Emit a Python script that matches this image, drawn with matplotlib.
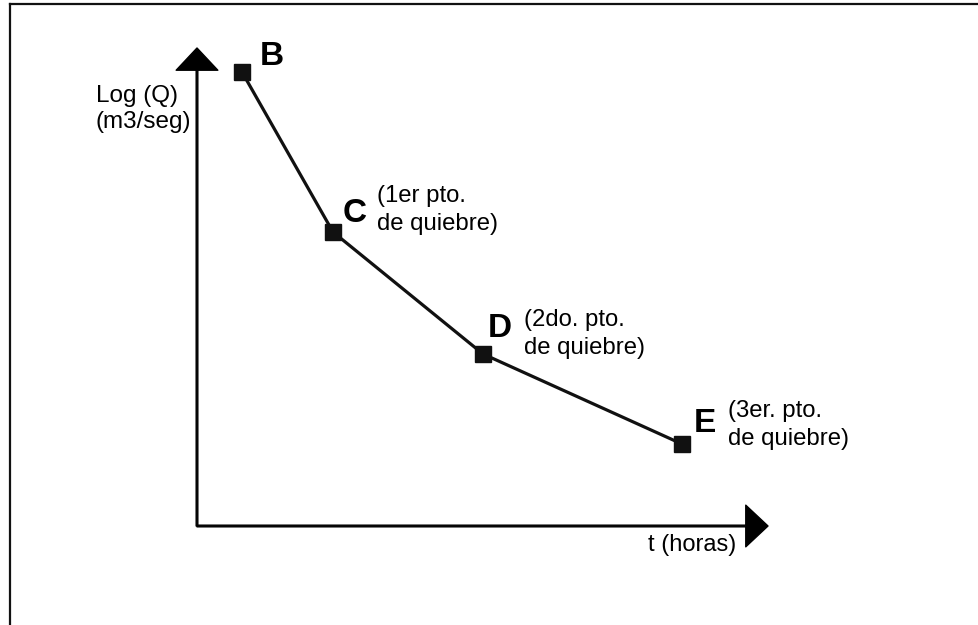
import matplotlib
matplotlib.use("Agg")
import matplotlib.pyplot as plt
from matplotlib.lines import Line2D

plt.rcParams['font.family'] = ['Liberation Sans', 'DejaVu Sans']

# puntos de quiebre del hidrograma (unidades arbitrarias)
puntos = ["B", "C", "D", "E"]
t_horas = [4.5, 13.6, 28.6, 48.5]
log_q = [45.4, 29.4, 17.2, 8.2]
notas = ["", "(1er pto.\nde quiebre)", "(2do. pto.\nde quiebre)", "(3er. pto.\nde quiebre)"]

# desplazamientos de las etiquetas en pixeles, a la linea base (letra, nota)
off_letra = [(18, 7), (10, 10), (5, 17), (12, 12)]
off_nota = [(0, 0), (44, 2), (41, 0), (46, -1)]

W, H, DPI = 979, 625, 100
PT = 72.0 / DPI

fig = plt.figure(figsize=(W / DPI, H / DPI), dpi=DPI)
fig.patch.set_facecolor("white")

# marco (solo izquierda y arriba)
fx = 10 / W
fy = 1 - 4 / H
fig.add_artist(Line2D([fx, fx], [0, fy], color="#111111", lw=1.6))
fig.add_artist(Line2D([fx, 1], [fy, fy], color="#111111", lw=1.6))

x0, y0 = 197, 526
x1, y1 = 768, 48
ax = fig.add_axes([x0 / W, (H - y0) / H, (x1 - x0) / W, (y0 - y1) / H])
ax.set_xlim(0, (x1 - x0) / 10)
ax.set_ylim(0, (y0 - y1) / 10)
ax.set_axis_off()

# ejes con flechas
flecha = dict(width=1.2, headwidth=30, headlength=16, color="black", shrink=0)
ax.annotate("", xy=(0, 1), xytext=(0, 0), xycoords="axes fraction",
            textcoords="axes fraction", arrowprops=flecha)
ax.annotate("", xy=(1, 0), xytext=(0, 0), xycoords="axes fraction",
            textcoords="axes fraction", arrowprops=flecha)

ax.plot(t_horas, log_q, color="#111111", lw=2.3, marker="s", ms=11,
        clip_on=False)

for i, p in enumerate(puntos):
    dx, dy = off_letra[i]
    ax.annotate(p, xy=(t_horas[i], log_q[i]), xytext=(dx * PT, dy * PT),
                textcoords="offset points", ha="left", va="baseline",
                fontsize=24, fontweight="bold", color="black")
    if notas[i]:
        nx, ny = off_nota[i]
        # va="baseline" alinea la ultima linea
        ax.annotate(notas[i], xy=(t_horas[i], log_q[i]),
                    xytext=(nx * PT, ny * PT), textcoords="offset points",
                    ha="left", va="baseline", fontsize=17.2, color="black",
                    linespacing=1.36)

ax.annotate("Log (Q)\n(m3/seg)", xy=(0, 1), xycoords="axes fraction",
            xytext=(-101 * PT, -80 * PT), textcoords="offset points",
            ha="left", va="baseline", fontsize=17.5, linespacing=1.22)
ax.annotate("t (horas)", xy=(1, 0), xycoords="axes fraction",
            xytext=(-32 * PT, -8 * PT), textcoords="offset points",
            ha="right", va="top", fontsize=17)

fig.savefig("out.png", dpi=DPI, facecolor="white")
